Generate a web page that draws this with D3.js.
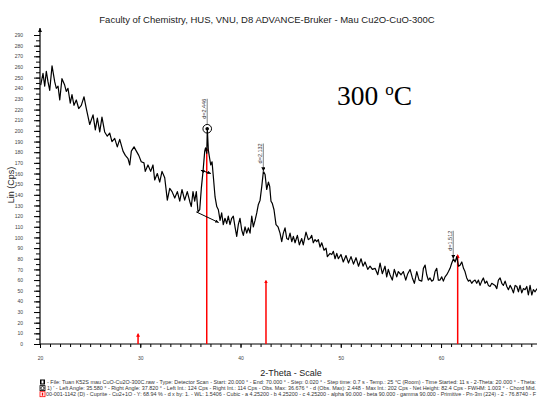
<!DOCTYPE html>
<html>
<head>
<meta charset="utf-8">
<script src="https://cdn.jsdelivr.net/npm/d3@7"></script>
<style>
    body { margin: 0; background: #fff; }
    text { font-family: "Liberation Sans", Arial, sans-serif; }
</style>
</head>
<body>
<div id="chart"></div>
<script>

// measured pattern (2-theta in degrees, intensity in Cps)
const twoTheta = [
    20.07,20.30,20.47,20.63,20.80,20.97,21.20,21.47,21.63,21.80,
    21.97,22.19,22.46,22.62,22.79,23.02,23.19,23.39,23.62,23.86,
    24.12,24.39,24.62,24.96,25.29,25.52,25.72,25.96,26.18,26.45,
    26.71,26.95,27.18,27.45,27.71,27.95,28.28,28.51,28.78,28.95,
    29.11,29.38,29.61,29.85,30.10,30.37,30.50,30.77,31.04,31.27,
    31.44,31.70,31.94,32.17,32.44,32.70,32.94,33.17,33.44,33.70,
    33.94,34.16,34.43,34.69,34.93,35.09,35.26,35.43,35.59,35.76,
    35.93,36.09,36.26,36.43,36.51,36.63,36.69,36.79,36.89,37.03,
    37.16,37.29,37.46,37.63,37.79,37.96,38.12,38.28,38.45,38.62,
    38.78,38.95,39.12,39.28,39.45,39.62,39.78,39.95,40.12,40.28,
    40.45,40.62,40.78,40.95,41.12,41.28,41.45,41.62,41.78,41.95,
    42.12,42.28,42.45,42.61,42.78,42.91,43.04,43.17,43.34,43.54,
    43.74,43.94,44.11,44.27,44.44,44.61,44.77,44.94,45.11,45.27,
    45.44,45.67,45.87,46.10,46.26,46.53,46.76,46.93,47.10,47.26,
    47.43,47.60,47.76,47.93,48.10,48.33,48.53,48.66,48.93,49.10,
    49.26,49.43,49.60,49.76,50.02,50.25,50.52,50.77,51.02,51.27,
    51.52,51.77,52.02,52.22,52.42,52.69,52.92,53.15,53.42,53.69,
    53.92,54.14,54.41,54.58,54.74,54.91,55.14,55.34,55.58,55.74,
    56.01,56.24,56.48,56.68,56.91,57.14,57.34,57.58,57.81,58.08,
    58.24,58.41,58.57,58.73,58.90,59.07,59.23,59.40,59.57,59.73,
    59.90,60.07,60.23,60.40,60.57,60.74,60.90,61.07,61.24,61.40,
    61.57,61.74,61.90,62.07,62.24,62.39,62.56,62.73,62.89,63.06,
    63.22,63.39,63.56,63.73,63.89,64.06,64.22,64.39,64.56,64.72,
    64.89,65.06,65.39,65.56,65.72,65.89,66.06,66.22,66.39,66.56,
    66.72,66.89,67.06,67.22,67.39,67.56,67.72,67.88,68.05,68.22,
    68.38,68.55,68.71,68.88,69.05,69.21,69.38,69.58
];

const counts = [
    243,254,242,256,246,238,261,246,240,242,
    229,249,243,237,240,226,234,224,229,221,
    224,232,221,206,215,201,212,199,213,199,
    195,198,190,193,185,192,181,177,174,168,
    181,185,181,177,171,170,162,168,162,168,
    154,160,152,162,156,135,146,143,137,143,
    134,145,135,143,134,129,143,134,143,124,
    126,146,162,181,184,179,202,182,176,168,
    171,157,138,129,126,116,123,112,118,113,
    120,112,118,120,110,101,112,118,107,102,
    110,104,109,104,120,110,116,123,131,135,
    148,162,159,145,152,148,134,132,126,112,
    110,104,96,104,109,99,98,104,96,101,
    95,102,93,99,93,105,98,99,102,95,
    98,96,98,91,95,88,90,82,85,84,
    87,80,85,80,84,77,83,76,82,75,
    81,73,80,73,77,70,73,70,71,65,
    76,66,73,63,70,65,60,70,63,68,
    65,68,60,66,70,62,57,68,60,59,
    71,74,65,60,62,59,60,68,71,60,
    60,63,59,63,65,68,71,76,80,77,
    82,73,74,77,71,68,62,59,60,57,
    59,60,57,60,55,59,62,57,59,55,
    54,57,55,52,60,62,57,55,59,54,
    51,55,52,48,55,54,49,55,48,52,
    51,54,46,55,46,51,49,52
];

// 00-001-1142 Cuprite reference lines
const stickPos = [29.78, 36.63, 42.54, 61.66];
const stickCounts = [9, 183, 59, 83];

// peak search results
const peakPos = [36.68, 42.28, 61.22];
const peakCounts = [202, 162, 80];
const peakLabels = ["d=2.446", "d=2.132", "d=1.512"];

// area evaluation of the first peak
const bgAngles = [35.58, 37.82];
const bgInts = [124, 114];
const fwhmAngles = [36.05, 37.05];
const fwhmInts = [163, 160];

const xTickLabels = [20, 30, 40, 50, 60];

const titleText = "Faculty of Chemistry, HUS, VNU, D8 ADVANCE-Bruker - Mau Cu2O-CuO-300C";
const legendLines = [
    "- File: Tuan K52S mau CuO-Cu2O-300C.raw - Type: Detector Scan - Start: 20.000 ° - End: 70.000 ° - Step: 0.020 ° - Step time: 0.7 s - Temp.: 25 °C (Room) - Time Started: 11 s - 2-Theta: 20.000 ° - Theta:",
    "1)   ' - Left Angle: 35.580 ° - Right Angle: 37.820 ° - Left Int.: 124 Cps - Right Int.: 114 Cps - Obs. Max: 36.676 ° - d (Obs. Max): 2.448 - Max Int.: 202 Cps - Net Height: 82.4 Cps - FWHM: 1.003 ° - Chord Mid.",
    "00-001-1142 (D) - Cuprite - Cu2+1O - Y: 68.94 % - d x by: 1. - WL: 1.5406 - Cubic - a 4.25200 - b 4.25200 - c 4.25200 - alpha 90.000 - beta 90.000 - gamma 90.000 - Primitive - Pn-3m (224) - 2 - 76.8740 - F"
];


class XrdPattern {

    constructor(parentElement, width, height) {
        this.parentElement = parentElement;
        this.width = width;
        this.height = height;

        this.initVis();
    }

    initVis() {
        let vis = this;

        vis.svg = d3.select("#" + vis.parentElement).append("svg")
            .attr("width", vis.width)
            .attr("height", vis.height);

        let defs = vis.svg.append("defs");
        defs.append("marker")
            .attr("id", "tip")
            .attr("viewBox", "0 0 10 10")
            .attr("refX", 10).attr("refY", 5)
            .attr("markerWidth", 3.5).attr("markerHeight", 3.5)
            .attr("orient", "auto-start-reverse")
            .append("path").attr("d", "M0,0L10,5L0,10Z").attr("fill", "#000");
        defs.append("marker")
            .attr("id", "redtip")
            .attr("viewBox", "0 0 10 10")
            .attr("refX", 6).attr("refY", 5)
            .attr("markerWidth", 2.6).attr("markerHeight", 2.6)
            .attr("orient", "auto")
            .append("path").attr("d", "M0,0L10,5L0,10Z").attr("fill", "#f00");

        vis.x = d3.scaleLinear().domain([20, 70]).range([40, 541.3]);
        vis.y = d3.scaleLinear().domain([0, 290]).range([344, 35]);

        vis.data = twoTheta.map((t, i) => ({t: t, c: counts[i]}));

        vis.updateVis();
    }

    updateVis() {
        let vis = this;

        // title
        vis.svg.append("text")
            .attr("x", 267).attr("y", 23)
            .attr("text-anchor", "middle")
            .attr("font-size", 9.5)
            .attr("fill", "#222")
            .text(titleText);

        // y axis
        let yMinor = d3.range(0, 295, 5);
        vis.svg.append("g")
            .attr("transform", "translate(40,0)")
            .call(d3.axisLeft(vis.y).tickValues(yMinor).tickSize(4).tickFormat(""))
            .call(g => g.select(".domain").remove());
        let yAxis = vis.svg.append("g")
            .attr("transform", "translate(40,0)")
            .call(d3.axisLeft(vis.y).tickValues(d3.range(0, 291, 10)).tickSize(6).tickPadding(11))
            .call(g => g.select(".domain").remove());
        yAxis.selectAll("text").attr("font-size", 5).attr("fill", "#444")
            .style("font-family", "Liberation Sans, Arial, sans-serif");

        vis.svg.append("line")
            .attr("x1", 40).attr("x2", 40)
            .attr("y1", 344).attr("y2", 28)
            .attr("stroke", "#000").attr("stroke-width", 1.2)
            .attr("marker-end", "url(#tip)");

        vis.svg.append("text")
            .attr("transform", "translate(14,185) rotate(-90)")
            .attr("text-anchor", "middle")
            .attr("font-size", 9)
            .attr("fill", "#222")
            .text("Lin (Cps)");

        // x axis
        vis.svg.append("g")
            .attr("transform", "translate(0,344)")
            .call(d3.axisBottom(vis.x).tickValues(d3.range(20, 70, 1)).tickSize(3).tickFormat(""))
            .call(g => g.select(".domain").remove());
        let xAxis = vis.svg.append("g")
            .attr("transform", "translate(0,344)")
            .call(d3.axisBottom(vis.x).tickValues(xTickLabels).tickSize(4).tickPadding(8).tickFormat(d3.format("d")))
            .call(g => g.select(".domain").remove());
        xAxis.selectAll("text").attr("font-size", 5).attr("fill", "#444")
            .style("font-family", "Liberation Sans, Arial, sans-serif");

        vis.svg.append("line")
            .attr("x1", 40).attr("x2", 537)
            .attr("y1", 344).attr("y2", 344)
            .attr("stroke", "#000").attr("stroke-width", 1.2);

        vis.svg.append("text")
            .attr("x", 291).attr("y", 376)
            .attr("text-anchor", "middle")
            .attr("font-size", 9)
            .attr("fill", "#222")
            .text("2-Theta - Scale");

        // reference sticks
        vis.svg.selectAll(".stick")
            .data(stickPos)
            .enter().append("line")
            .attr("class", "stick")
            .attr("x1", d => vis.x(d)).attr("x2", d => vis.x(d))
            .attr("y1", vis.y(0))
            .attr("y2", (d, i) => vis.y(stickCounts[i]))
            .attr("stroke", "#f00").attr("stroke-width", 1.5)
            .attr("marker-end", "url(#redtip)");

        // measured curve
        let line = d3.line().x(d => vis.x(d.t)).y(d => vis.y(d.c));
        vis.svg.append("path")
            .datum(vis.data)
            .attr("d", line)
            .attr("fill", "none")
            .attr("stroke", "#000")
            .attr("stroke-width", 1.2)
            .attr("stroke-linejoin", "round");

        // area evaluation: background and FWHM
        vis.svg.append("line")
            .attr("x1", vis.x(bgAngles[0])).attr("y1", vis.y(bgInts[0]))
            .attr("x2", vis.x(bgAngles[1])).attr("y2", vis.y(bgInts[1]))
            .attr("stroke", "#000").attr("stroke-width", 1)
            .attr("marker-end", "url(#tip)");
        vis.svg.append("line")
            .attr("x1", vis.x(fwhmAngles[0])).attr("y1", vis.y(fwhmInts[0]))
            .attr("x2", vis.x(fwhmAngles[1])).attr("y2", vis.y(fwhmInts[1]))
            .attr("stroke", "#000").attr("stroke-width", 1)
            .attr("marker-end", "url(#tip)")
            .attr("marker-start", "url(#tip)");

        // peak labels
        peakPos.forEach((p, i) => {
            let px = vis.x(p);
            let py = vis.y(peakCounts[i]);
            let gap = i === 0 ? 10 : 8;
            let top = py - gap - 20;
            vis.svg.append("line")
                .attr("x1", px).attr("x2", px)
                .attr("y1", top).attr("y2", py - (i === 0 ? 4.3 : 0))
                .attr("stroke", "#999").attr("stroke-width", 1.2)
                .attr("marker-end", i === 0 ? null : "url(#tip)");
            vis.svg.append("text")
                .attr("transform", `translate(${px - 1.2},${py - gap}) rotate(-90)`)
                .attr("font-size", 5.5)
                .attr("fill", "#333")
                .text(peakLabels[i]);
            if (i === 0) {
                vis.svg.append("circle")
                    .attr("cx", px).attr("cy", py)
                    .attr("r", 4.3)
                    .attr("fill", "none").attr("stroke", "#000").attr("stroke-width", 1);
                vis.svg.append("circle")
                    .attr("cx", px).attr("cy", py)
                    .attr("r", 1.8)
                    .attr("fill", "#000");
            }
        });

        // temperature tag
        let tag = vis.svg.append("text")
            .attr("x", 337).attr("y", 105)
            .style("font-family", "Liberation Serif, 'Times New Roman', serif")
            .attr("font-size", 27.5)
            .attr("fill", "#000");
        tag.append("tspan").text("300 ");
        tag.append("tspan").attr("font-size", 17).attr("dy", -10).text("o");
        tag.append("tspan").attr("dy", 10).text("C");

        // legend
        let leg = vis.svg.append("g");
        legendLines.forEach((t, i) => {
            let ly = 384 + i * 6.1;
            if (i === 0) {
                leg.append("rect").attr("x", 40).attr("y", ly - 4.5).attr("width", 5).attr("height", 5)
                    .attr("fill", "#000");
                leg.append("rect").attr("x", 41.5).attr("y", ly - 3.5).attr("width", 2).attr("height", 3)
                    .attr("fill", "#fff");
            } else if (i === 1) {
                leg.append("rect").attr("x", 40).attr("y", ly - 4.5).attr("width", 5).attr("height", 5)
                    .attr("fill", "#fff").attr("stroke", "#000").attr("stroke-width", 0.8);
                leg.append("circle").attr("cx", 42.5).attr("cy", ly - 2).attr("r", 1.6)
                    .attr("fill", "none").attr("stroke", "#000").attr("stroke-width", 0.8);
            } else {
                leg.append("rect").attr("x", 40).attr("y", ly - 4.5).attr("width", 5).attr("height", 5)
                    .attr("fill", "#fff").attr("stroke", "#f00").attr("stroke-width", 0.8);
                leg.append("rect").attr("x", 41.8).attr("y", ly - 3.5).attr("width", 1.4).attr("height", 3)
                    .attr("fill", "#f00");
            }
            let x0 = i === 2 ? 46 : 47;
            leg.append("text")
                .attr("x", x0).attr("y", ly)
                .attr("font-size", 5.4)
                .attr("fill", "#333")
                .attr("textLength", 536 - x0)
                .attr("lengthAdjust", "spacingAndGlyphs")
                .text(t);
        });
    }
}

new XrdPattern("chart", 537, 405);

</script>
</body>
</html>
